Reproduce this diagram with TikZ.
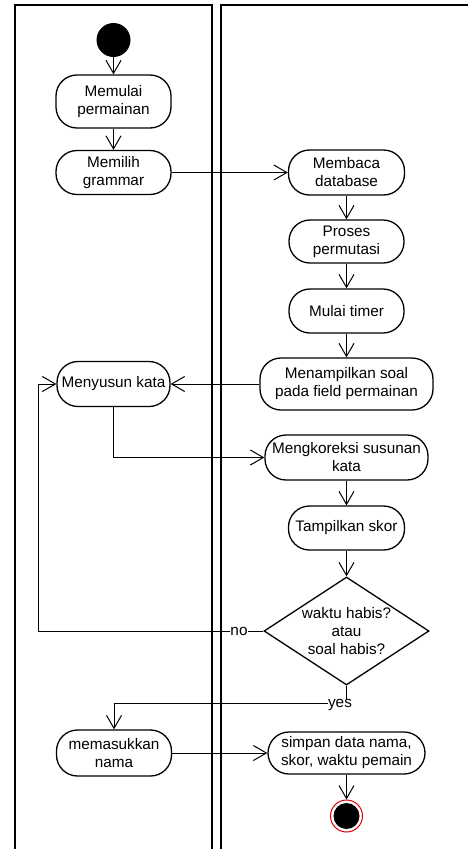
\documentclass[tikz,border=0pt]{standalone}
\usepackage{fontspec}
\setmainfont{Liberation Sans}
\usetikzlibrary{arrows.meta,shapes.geometric}
\begin{document}
\begin{tikzpicture}[x=1pt,y=-1pt,
  act/.style={draw,line width=1.3pt,rectangle,rounded corners=21pt,align=center,
    font=\fontsize{15.3}{18}\selectfont,inner sep=1pt},
  lane/.style={line width=2pt},
  flow/.style={line width=1pt,-{Straight Barb[length=13pt,width=15pt,line width=1pt]}},
  lbl/.style={fill=white,inner sep=0.5pt,font=\fontsize{15.3}{18}\selectfont}]
\useasboundingbox (0,0) rectangle (467,849);
% swimlanes
\draw[lane] (15,852) -- (15,5) -- (212,5) -- (212,852);
\draw[lane] (221,852) -- (221,5) -- (470,5);
% start
\node[circle,fill=black,minimum size=34pt,inner sep=0] (start) at (113.5,40) {};
% left lane actions
\node[act,minimum width=115pt,minimum height=53pt] (mulai) at (113.5,101.5) {Memulai\\permainan};
\node[act,minimum width=115pt,minimum height=44pt] (pilih) at (113.5,172.5) {Memilih\\grammar};
\node[act,minimum width=113pt,minimum height=45pt] (susun) at (113.5,384) {Menyusun kata};
\node[act,minimum width=115pt,minimum height=46pt] (masuk) at (114,753) {memasukkan\\nama};
% right lane actions
\node[act,minimum width=116pt,minimum height=45pt] (baca) at (346.5,172.5) {Membaca\\database};
\node[act,minimum width=115pt,minimum height=43pt] (perm) at (346.5,241.5) {Proses\\permutasi};
\node[act,minimum width=115pt,minimum height=44pt] (timer) at (346.5,311) {Mulai timer};
\node[act,minimum width=173pt,minimum height=52pt] (tampil) at (346.5,384) {Menampilkan soal\\pada field permainan};
\node[act,minimum width=163pt,minimum height=45pt] (koreksi) at (346.5,457.5) {Mengkoreksi susunan\\kata};
\node[act,minimum width=116pt,minimum height=44pt] (skor) at (346.5,528) {Tampilkan skor};
\node[draw,line width=1.3pt,diamond,aspect=1.53,minimum width=165pt,minimum height=108pt,inner sep=-4pt,
  align=center,font=\fontsize{15.3}{18}\selectfont] (cek) at (346.5,631) {waktu habis?\\atau\\soal habis?};
\node[act,minimum width=157pt,minimum height=42pt] (simpan) at (346.5,753) {simpan data nama,\\skor, waktu pemain};
% end
\node[circle,draw=red!85!black,line width=1pt,fill=white,minimum size=32pt,inner sep=0] (end) at (346.5,816) {};
\node[circle,fill=black,minimum size=26pt,inner sep=0] (endin) at (end) {};
% flows
\draw[flow] (start) -- (mulai);
\draw[flow] (mulai) -- (pilih);
\draw[flow] (pilih) -- (baca);
\draw[flow] (baca) -- (perm);
\draw[flow] (perm) -- (timer);
\draw[flow] (timer) -- (tampil);
\draw[flow] (tampil) -- (susun);
\draw[flow] (susun.south) |- (koreksi.west);
\draw[flow] (koreksi) -- (skor);
\draw[flow] (skor) -- (cek);
\coordinate (nocorner) at (38,631);
\draw[flow] (cek.west) -- (nocorner) |- (susun.west);
\node[lbl] (no) at (239,631) {no};
\coordinate (yescorner) at (346.5,703);
\draw[flow] (cek.south) -- (yescorner) -| (masuk.north);
\node[lbl] (yes) at (340,705) {yes};
\draw[flow] (masuk) -- (simpan);
\draw[flow] (simpan) -- (end);
\end{tikzpicture}
\end{document}
